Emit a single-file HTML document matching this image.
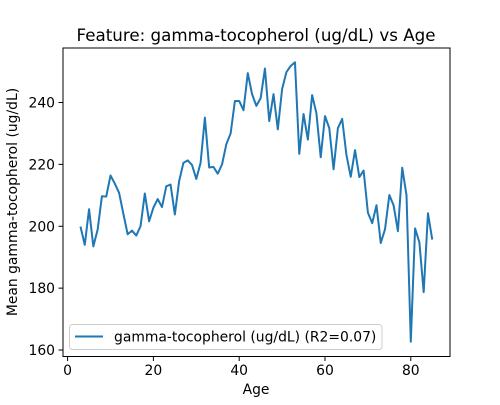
<!DOCTYPE html>
<html><head><meta charset="utf-8"><style>
body{margin:0;background:#fff}
svg text{font-family:"DejaVu Sans","Liberation Sans",sans-serif;fill:#000}
</style></head><body>
<svg width="500" height="400" viewBox="0 0 500 400">
<rect x="0" y="0" width="500" height="400" fill="#fff"/>
<text x="256" y="41" font-size="16.7" text-anchor="middle">Feature: gamma-tocopherol (ug/dL) vs Age</text>
<g id="xt"></g>
<g id="yt"></g>
<polyline id="line" fill="none" stroke="#1f77b4" stroke-width="2" stroke-linejoin="round"/>
<rect x="63" y="48" width="387" height="308.5" fill="none" stroke="#000" stroke-width="1"/>
<text x="256" y="394" font-size="13.9" text-anchor="middle">Age</text>
<text transform="translate(17,202) rotate(-90)" font-size="13.9" text-anchor="middle">Mean gamma-tocopherol (ug/dL)</text>
<g>
<rect x="69.5" y="324.5" width="312.5" height="25" rx="3" fill="#fff" fill-opacity="0.8" stroke="#ccc"/>
<line x1="75" y1="336.5" x2="103" y2="336.5" stroke="#1f77b4" stroke-width="2"/>
<text x="114" y="341.5" font-size="13.9">gamma-tocopherol (ug/dL) (R2=0.07)</text>
</g>
</svg>
<script>
const ages=[3,4,5,6,7,8,9,10,11,12,13,14,15,16,17,18,19,20,21,22,23,24,25,26,27,28,29,30,31,32,33,34,35,36,37,38,39,40,41,42,43,44,45,46,47,48,49,50,51,52,53,54,55,56,57,58,59,60,61,62,63,64,65,66,67,68,69,70,71,72,73,74,75,76,77,78,79,80,81,82,83,84,85];
const values=[199.9,194,205.5,193.5,198.9,209.7,209.6,216.4,213.8,210.8,204,197.4,198.6,197,200,210.6,201.6,206,208.8,206.2,212.9,213.5,203.8,214.6,220.5,221.3,219.8,215.3,220.5,235.1,219,219.2,217,220,226.5,230,240.5,240.5,237.5,249.5,242.7,238.9,241.4,251,234,242.7,231.3,244.3,249.8,251.8,253,223.4,236.3,228,242.4,236.5,222.3,235.6,231.7,218.4,231.7,234.7,223,216,224.6,215.9,218,204.4,201,206.8,194.6,199.1,210.1,206.7,198.4,218.9,210,162.7,199.3,194.8,178.7,204.2,195.7];
const xTicks=[0,20,40,60,80];
const yTicks=[160,180,200,220,240];
const X=a=>67.6+a*4.29;
const Y=v=>102.5+(240-v)*3.094;
const ns="http://www.w3.org/2000/svg";
const line=document.getElementById('line');
line.setAttribute('points',ages.map((a,i)=>X(a).toFixed(2)+','+Y(values[i]).toFixed(2)).join(' '));
const xt=document.getElementById('xt'),yt=document.getElementById('yt');
xTicks.forEach(t=>{
 const l=document.createElementNS(ns,'line');
 
 
 l.setAttribute('x1',X(t));l.setAttribute('x2',X(t));l.setAttribute('y1',356.5);l.setAttribute('y2',361);l.setAttribute('stroke','#000');
 xt.appendChild(l);
 const s=document.createElementNS(ns,'text');
 
 
 s.setAttribute('x',X(t));s.setAttribute('y',375);s.setAttribute('font-size','13.9');s.setAttribute('text-anchor','middle');
 s.textContent=t;xt.appendChild(s);
});
yTicks.forEach(t=>{
 const l=document.createElementNS(ns,'line');
 
 
 l.setAttribute('x1',58.5);l.setAttribute('x2',63);l.setAttribute('y1',Y(t));l.setAttribute('y2',Y(t));l.setAttribute('stroke','#000');
 yt.appendChild(l);
 const s=document.createElementNS(ns,'text');
 
 
 s.setAttribute('x',55);s.setAttribute('y',Y(t)+5);s.setAttribute('font-size','13.9');s.setAttribute('text-anchor','end');
 s.textContent=t;yt.appendChild(s);
});
</script>
</body></html>
